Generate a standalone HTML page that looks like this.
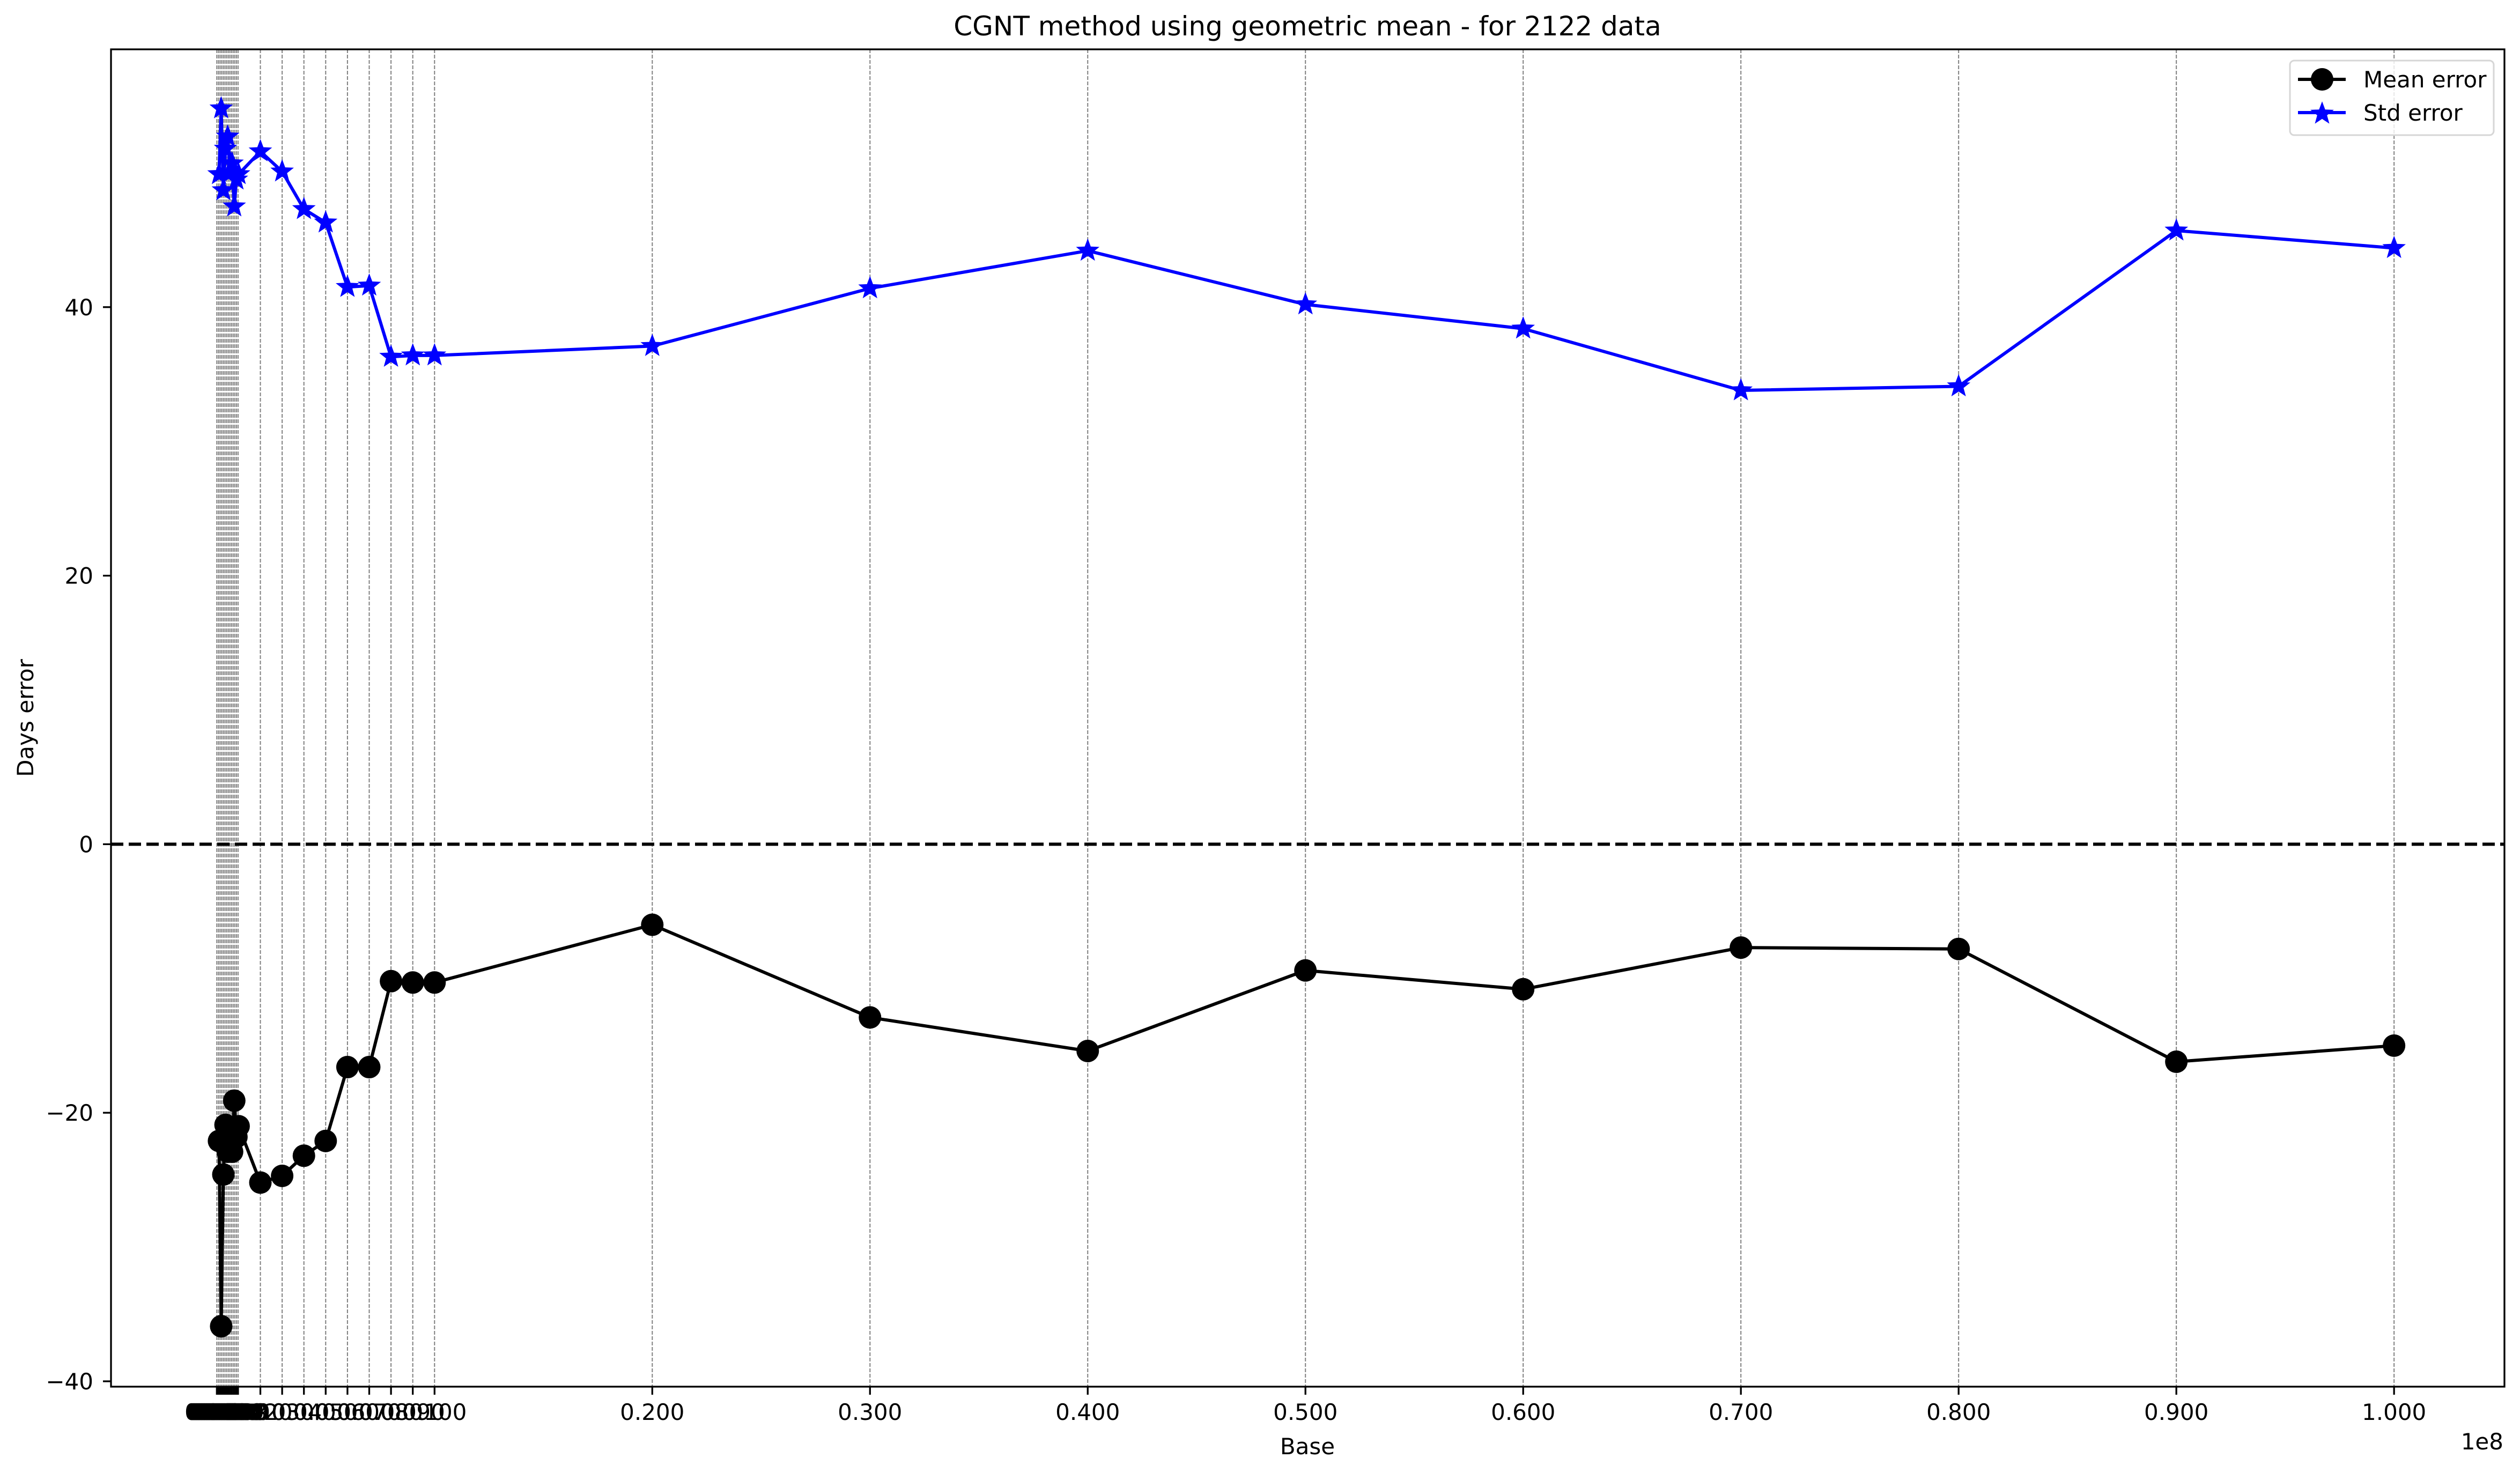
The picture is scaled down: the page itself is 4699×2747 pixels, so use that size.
<!DOCTYPE html>
<html><head><meta charset="utf-8"><style>
html,body{margin:0;padding:0;background:#fff}
svg{display:block}
text{font-family:"DejaVu Sans","Liberation Sans",sans-serif;fill:#000}
</style></head><body>
<svg id="chart" width="4699" height="2747" viewBox="0 0 4699 2747" xmlns="http://www.w3.org/2000/svg">
<rect width="4699" height="2747" fill="#fff"/>
<g id="grid"></g>
<g id="plot"></g>
<g id="axes"></g>
<text x="2438" y="66" font-size="50" text-anchor="middle">CGNT method using geometric mean - for 2122 data</text>
<text x="2438" y="2712" font-size="42" text-anchor="middle">Base</text>
<text x="62" y="1339" font-size="42" text-anchor="middle" transform="rotate(-90 62 1339)">Days error</text>
<text x="4668" y="2703" font-size="42" text-anchor="end">1e8</text>
<g>
<rect x="4270" y="113" width="380" height="139" rx="8" fill="#fff" fill-opacity="0.8" stroke="#d6d6d6" stroke-width="3"/>
<g>
<line x1="4285" y1="148" x2="4374" y2="148" stroke="#000" stroke-width="6"/>
<circle cx="4330" cy="148" r="21" fill="#000"/>
<text x="4407" y="163" font-size="42">Mean error</text>
</g>
<g>
<line x1="4285" y1="210" x2="4374" y2="210" stroke="#0000ff" stroke-width="6"/>
<polygon id="legstar" fill="#0000ff" points=""/>
<text x="4407" y="225" font-size="42">Std error</text>
</g>
</g>
</svg>
<script>
const bases = [1e5,2e5,3e5,4e5,5e5,6e5,7e5,8e5,9e5,1e6,2e6,3e6,4e6,5e6,6e6,7e6,8e6,9e6,1e7,2e7,3e7,4e7,5e7,6e7,7e7,8e7,9e7,1e8];
const meanError = [-22.1,-35.9,-24.6,-20.9,-22.9,-21.5,-22.9,-19.1,-21.8,-21.0,-25.2,-24.7,-23.2,-22.1,-16.6,-16.6,-10.2,-10.3,-10.3,-6.0,-12.9,-15.4,-9.4,-10.8,-7.7,-7.8,-16.2,-15.0];
const stdError = [49.9,54.8,48.7,51.8,52.7,50.0,50.7,47.5,49.5,49.9,51.6,50.1,47.3,46.3,41.5,41.6,36.3,36.4,36.4,37.1,41.4,44.2,40.2,38.4,33.8,34.1,45.7,44.4];
const xTicks = [0,75000,150000,225000,300000,375000,450000,525000,600000,675000,750000,825000,900000,975000,2e6,3e6,4e6,5e6,6e6,7e6,8e6,9e6,1e7,2e7,3e7,4e7,5e7,6e7,7e7,8e7,9e7,1e8];
const yTicks = [-40,-20,0,20,40];

const L=207,R=4670,T=92,B=2586;
const X0=-4.86e6,X1=1.0507e8,Y0=-40.4,Y1=59.2;
const sx=v=>L+(v-X0)/(X1-X0)*(R-L);
const sy=v=>B-(v-Y0)/(Y1-Y0)*(B-T);
const NS="http://www.w3.org/2000/svg";
function mk(tag,attrs,parent){const e=document.createElementNS(NS,tag);for(const k in attrs)e.setAttribute(k,attrs[k]);parent.appendChild(e);return e;}
const grid=document.getElementById('grid'),plot=document.getElementById('plot'),axes=document.getElementById('axes');

xTicks.forEach(v=>{
  const x=sx(v);
  const g=mk('line',{x1:x,x2:x,y1:T,y2:B,stroke:'#808080','stroke-width':2,'stroke-dasharray':'7,3'},grid);
  
  
  const t=mk('line',{x1:x,x2:x,y1:B,y2:B+15,stroke:'#000','stroke-width':3.3},axes);
  
  
  const lb=mk('text',{x:x,y:2648,'font-size':42,'text-anchor':'middle'},axes);
  lb.textContent=(v/1e8).toFixed(3);
  
  
});
yTicks.forEach(v=>{
  const y=sy(v);
  const t=mk('line',{x1:L-15,x2:L,y1:y,y2:y,stroke:'#000','stroke-width':3.3},axes);
  
  
  const lb=mk('text',{x:174,y:y+15,'font-size':42,'text-anchor':'end'},axes);
  lb.textContent=v<0?'\u2212'+Math.abs(v):String(v);
  
  
});
const zl=mk('line',{x1:L,x2:R,y1:sy(0),y2:sy(0),stroke:'#000','stroke-width':6,'stroke-dasharray':'23,10'},plot);



function starPts(cx,cy,ro){const ri=ro*0.42;let p=[];for(let i=0;i<10;i++){const r=i%2?ri:ro;const a=-Math.PI/2+i*Math.PI/5;p.push((cx+r*Math.cos(a)).toFixed(1)+','+(cy+r*Math.sin(a)).toFixed(1));}return p.join(' ');}

const mp=mk('polyline',{points:bases.map((b,i)=>sx(b)+','+sy(meanError[i])).join(' '),fill:'none',stroke:'#000','stroke-width':6,'stroke-linejoin':'round'},plot);


bases.forEach((b,i)=>{
  const c=mk('circle',{cx:sx(b),cy:sy(meanError[i]),r:21,fill:'#000'},plot);
  
  
});
const spl=mk('polyline',{points:bases.map((b,i)=>sx(b)+','+sy(stdError[i])).join(' '),fill:'none',stroke:'#0000ff','stroke-width':6,'stroke-linejoin':'round'},plot);


bases.forEach((b,i)=>{
  const s=mk('polygon',{points:starPts(sx(b),sy(stdError[i]),23),fill:'#0000ff'},plot);
  
  
});
document.getElementById('legstar').setAttribute('points',starPts(4330,212,23));
const fr=mk('rect',{x:L,y:T,width:R-L,height:B-T,fill:'none',stroke:'#000','stroke-width':3.3},axes);


</script>
</body></html>
